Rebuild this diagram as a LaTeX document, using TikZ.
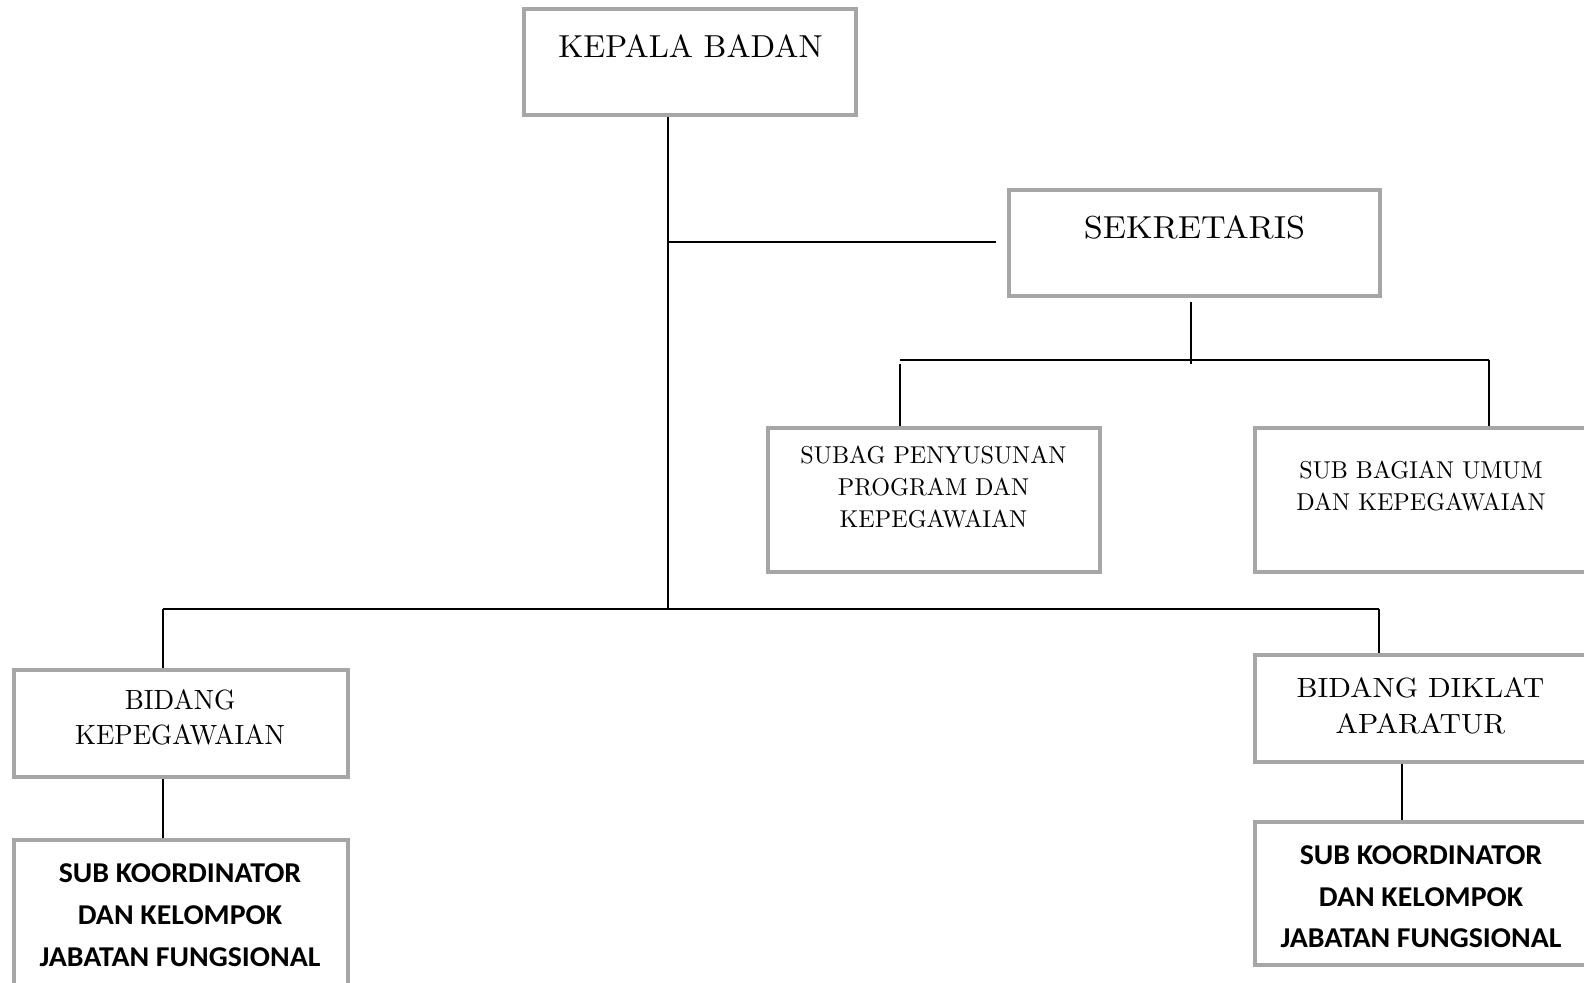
\documentclass[tikz,border=0pt]{standalone}
\usepackage{fontspec}
\usepackage{graphicx}
\newfontfamily\carlito{Carlito}
\definecolor{boxgray}{HTML}{A6A6A6}
\tikzset{
  box/.style={draw=boxgray, line width=4pt, rectangle, inner sep=0pt, fill=white},
  conn/.style={draw=black, line width=1.6pt},
  txt/.style={anchor=base, inner sep=0pt, font=\fontsize{10}{12}\selectfont},
  bld/.style={anchor=base, inner sep=0pt, font=\carlito\bfseries\fontsize{28.7}{32}\selectfont}
}
\newcommand\mytx[3]{\scalebox{#1}[#2]{#3}}
\begin{document}
\begin{tikzpicture}[x=1pt,y=-1pt]
\useasboundingbox (0,0) rectangle (1584,982);
\clip (0,0) rectangle (1584,982);
\fill[white] (0,0) rectangle (1584,982);
% boxes
\node[box, minimum width=332pt, minimum height=106pt] (kepala) at (690,62) {};
\node[box, minimum width=371pt, minimum height=106pt] (sek) at (1194.5,243) {};
\node[box, minimum width=332pt, minimum height=144pt] (subag) at (934,500) {};
\node[box, minimum width=333pt, minimum height=144pt] (subum) at (1421.5,500) {};
\node[box, minimum width=334pt, minimum height=107pt] (bidkep) at (181,723.5) {};
\node[box, minimum width=334pt, minimum height=146pt] (sk1) at (181,913) {};
\node[box, minimum width=333pt, minimum height=107pt] (biddik) at (1421.5,708.5) {};
\node[box, minimum width=333pt, minimum height=143pt] (sk2) at (1421.5,893.5) {};
% junction coordinates
\coordinate (jb) at (668,609);
\coordinate (js) at (668,242);
\coordinate (jsk) at (1191,364);
\coordinate (hl) at (900,360);
\coordinate (hr) at (1489,360);
\coordinate (hl2) at (900,364);
\coordinate (bl) at (163,609);
\coordinate (br) at (1379,609);
\coordinate (rx) at (1402,0);
% connectors
\draw[conn] (kepala.south -| jb) -- (jb);
\draw[conn, shorten >=11pt] (js) -- (sek.west |- js);
\draw[conn, shorten <=4pt] (sek.south -| jsk) -- (jsk);
\draw[conn] (hl) -- (hr);
\draw[conn] (hl2) -- (subag.north -| hl2);
\draw[conn] (hr) -- (subum.north -| hr);
\draw[conn] (bl) -- (br);
\draw[conn] (bl) -- (bidkep.north -| bl);
\draw[conn] (br) -- (biddik.north -| br);
\draw[conn] (bidkep.south -| bl) -- (sk1.north -| bl);
\draw[conn] (biddik.south -| rx) -- (sk2.north -| rx);
% texts
\node[txt] (kT) at (690.5,57) {\mytx{3.22}{3.18}{KEPALA BADAN}};
\node[txt] (sT) at (1194.5,238) {\mytx{3.42}{3.18}{SEKRETARIS}};
\node[txt] (subagT1) at (933.5,463) {\mytx{2.414}{2.44}{SUBAG PENYUSUNAN}};
\node[txt] (subagT2) at (933.5,495) {\mytx{2.414}{2.44}{PROGRAM DAN}};
\node[txt] (subagT3) at (933.5,527) {\mytx{2.414}{2.44}{KEPEGAWAIAN}};
\node[txt] (subumT1) at (1421,478) {\mytx{2.41}{2.44}{SUB BAGIAN UMUM}};
\node[txt] (subumT2) at (1421,510) {\mytx{2.41}{2.44}{DAN KEPEGAWAIAN}};
\node[txt] (bidkepT1) at (180,709) {\mytx{2.70}{2.78}{BIDANG}};
\node[txt] (bidkepT2) at (180,744) {\mytx{2.70}{2.78}{KEPEGAWAIAN}};
\node[txt] (biddikT1) at (1420.5,697) {\mytx{2.97}{2.78}{BIDANG DIKLAT}};
\node[txt] (biddikT2) at (1420.5,733) {\mytx{2.97}{2.78}{APARATUR}};
\node[bld] (sk1T1) at (180,882) {\scalebox{1.04}[1]{SUB KOORDINATOR}};
\node[bld] (sk1T2) at (180,924) {\scalebox{1.04}[1]{DAN KELOMPOK}};
\node[bld] (sk1T3) at (180,966) {\scalebox{1.04}[1]{JABATAN FUNGSIONAL}};
\node[bld] (sk2T1) at (1421,864) {\scalebox{1.04}[1]{SUB KOORDINATOR}};
\node[bld] (sk2T2) at (1421,906) {\scalebox{1.04}[1]{DAN KELOMPOK}};
\node[bld] (sk2T3) at (1421,947) {\scalebox{1.04}[1]{JABATAN FUNGSIONAL}};
\end{tikzpicture}
\end{document}
